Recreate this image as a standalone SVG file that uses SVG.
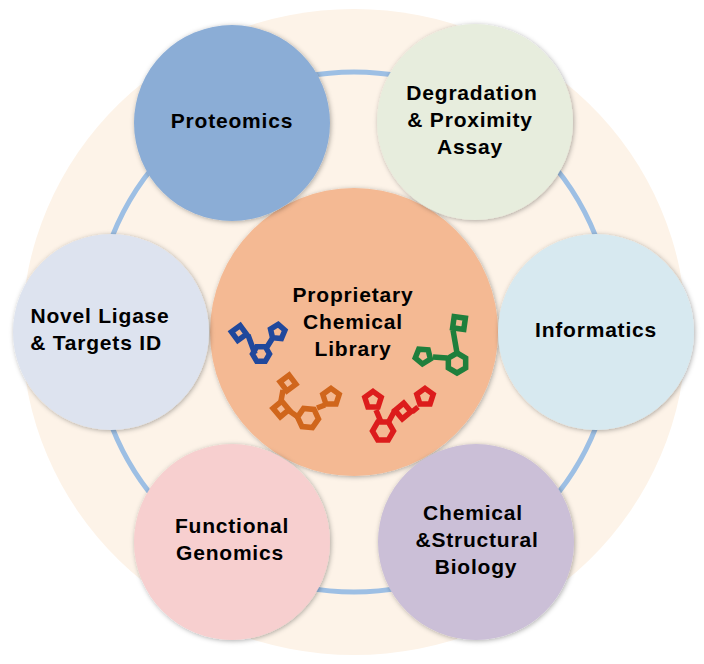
<svg xmlns="http://www.w3.org/2000/svg" width="704" height="664" viewBox="0 0 704 664">
<style>
.n{stroke:none;filter:url(#s)}
text{font-family:"Liberation Sans",Arial,sans-serif;font-size:21px;font-weight:700;fill:#000;text-anchor:middle;letter-spacing:.8px}
.m{fill:none;stroke-width:5.5;stroke-linejoin:miter}
.b{stroke:#20489c}.o{stroke:#d0661c}.g{stroke:#1f7f3c}.r{stroke:#dc1c1c}
</style>
<defs>
<filter id="s" x="-10%" y="-10%" width="120%" height="120%"><feDropShadow dx="1" dy="1" stdDeviation="2.5" flood-color="#000" flood-opacity="0.32"/></filter>
<polygon id="pe" vector-effect="non-scaling-stroke" points="0,-8 7.6,-2.47 4.7,6.47 -4.7,6.47 -7.6,-2.47"/>
<polygon id="he" vector-effect="non-scaling-stroke" points="0,-10 8.66,-5 8.66,5 0,10 -8.66,5 -8.66,-5"/>
<polygon id="sq" vector-effect="non-scaling-stroke" points="0,-8 8,0 0,8 -8,0"/>
</defs>
<rect width="704" height="664" fill="#fff"/>
<ellipse cx="354" cy="332" rx="332" ry="323" fill="#fdf3e8"/>
<g id="connectors"><circle cx="354" cy="332" r="260" fill="none" stroke="#9dbfe4" stroke-width="5"/></g>
<g id="center"><circle class="n" cx="354" cy="332" r="144" fill="#f4b993"/>
<text x="353" y="302">Proprietary</text><text x="353" y="329">Chemical</text><text x="353" y="356">Library</text></g>
<g id="proteomics"><circle class="n" cx="232" cy="123" r="98" fill="#8badd6"/><text x="232" y="128">Proteomics</text></g>
<g id="degradation"><circle class="n" cx="475" cy="122" r="98" fill="#e7eddd"/><text x="472" y="100">Degradation</text><text x="470" y="127">&amp; Proximity</text><text x="470" y="154">Assay</text></g>
<g id="informatics"><circle class="n" cx="596" cy="332" r="98" fill="#d7e9f0"/><text x="596" y="337">Informatics</text></g>
<g id="biology"><circle class="n" cx="476" cy="542" r="98" fill="#cbbfd7"/><text x="473" y="520">Chemical</text><text x="477" y="547">&amp;Structural</text><text x="476" y="574">Biology</text></g>
<g id="genomics"><circle class="n" cx="232" cy="542" r="98" fill="#f7cfcf"/><text x="232" y="533">Functional</text><text x="230" y="560">Genomics</text></g>
<g id="ligase"><circle class="n" cx="111" cy="332" r="98" fill="#dde3ef"/><text x="100" y="323">Novel Ligase</text><text x="96" y="350">&amp; Targets ID</text></g>
<g id="molecules">
<g class="m b"><use href="#sq" transform="translate(239 333) rotate(9) scale(.95)"/><use href="#pe" transform="translate(277.500 332) rotate(5) scale(.95)"/><use href="#he" transform="translate(261 354) rotate(30) scale(.85)"/><path d="M248 335l7 19M272 339l-5 8"/></g>
<g class="m o"><use href="#sq" transform="translate(288 383) rotate(8)"/><use href="#sq" transform="translate(281 409) rotate(5)"/><use href="#he" transform="translate(308 418) rotate(35) scale(1.05)"/><use href="#pe" transform="translate(331 397) scale(1.08)"/><path d="M283 390l-2 11M288 410l10 7M317 408l8-3"/></g>
<g class="m g"><use href="#sq" transform="translate(459 323) rotate(53)"/><use href="#pe" transform="translate(423 356) rotate(184)"/><use href="#he" transform="translate(457 363)"/><path d="M453 330l4 23M433 357l14 1"/></g>
<g class="m r"><use href="#pe" transform="translate(373 400) scale(1.08)"/><use href="#he" transform="translate(383 431) rotate(30) scale(1.05)"/><use href="#sq" transform="translate(403 411) rotate(5)"/><use href="#pe" transform="translate(425 397) scale(1.08)"/><path d="M376 410l5 12M388 423l7-13M412 412l6-5"/></g>
</g>
</svg>
